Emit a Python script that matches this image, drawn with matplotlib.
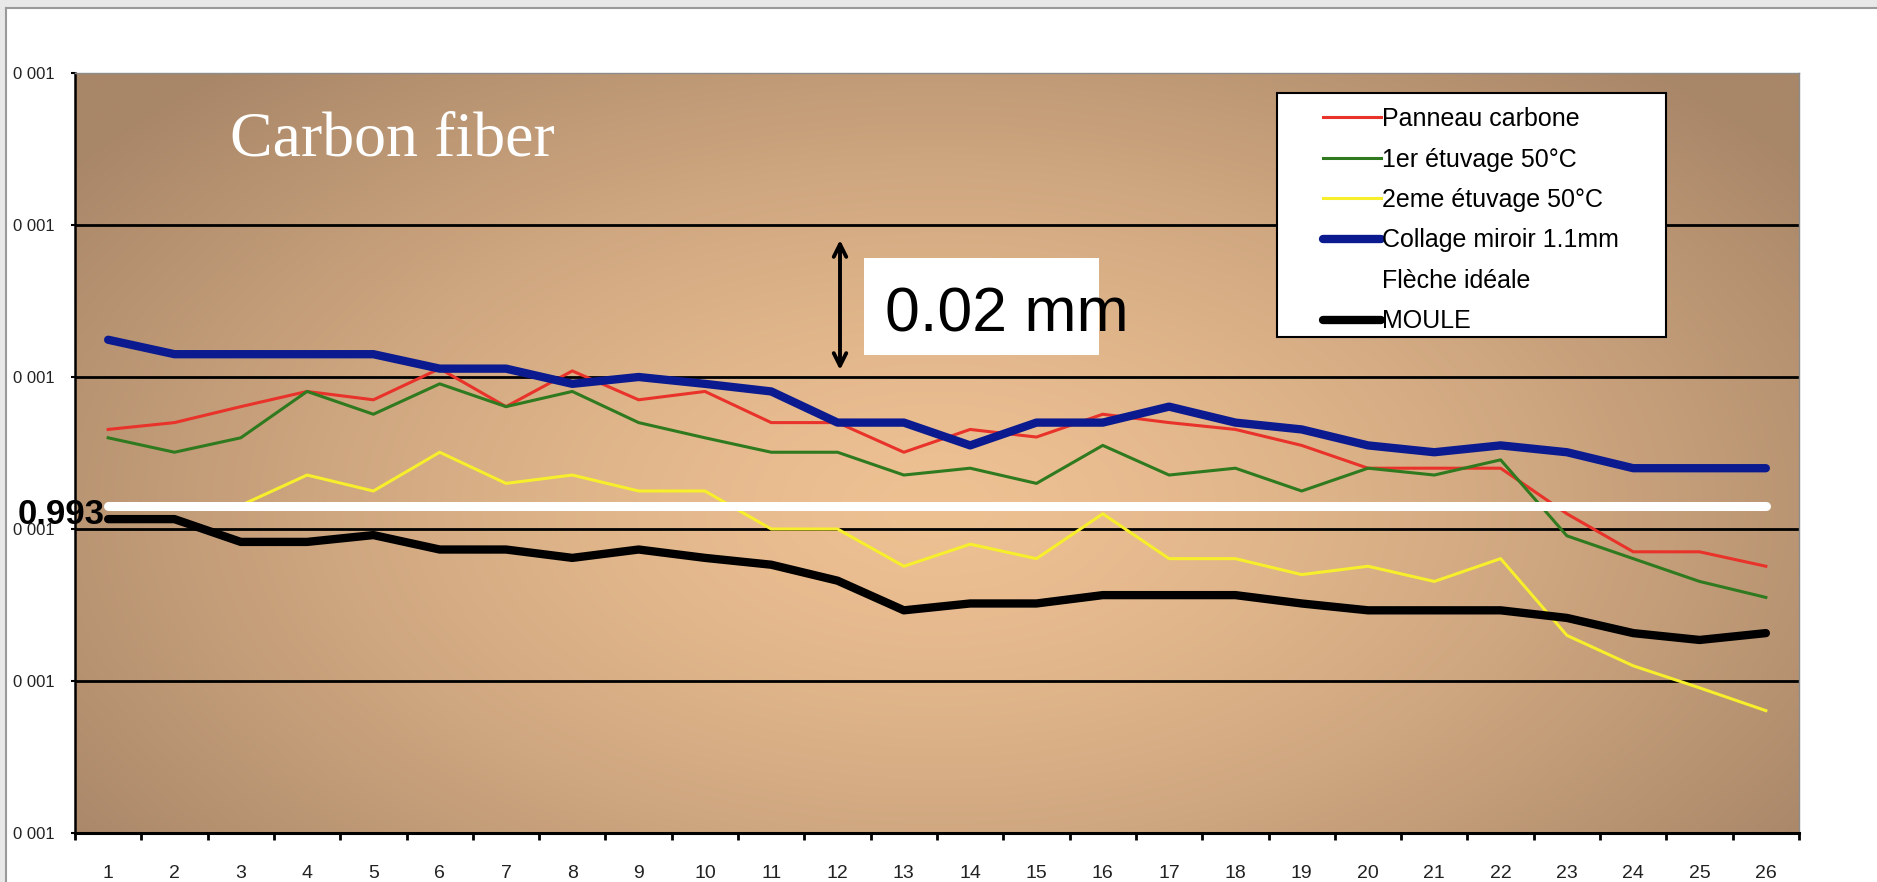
import numpy as np
import matplotlib.pyplot as plt
from matplotlib import font_manager
from matplotlib.patches import Rectangle
from matplotlib.lines import Line2D

# data (mm)
points = list(range(1, 27))
panneau = [1.0031, 1.0040, 1.0061, 1.0081, 1.0070, 1.0111, 1.0061, 1.0108, 1.0070, 1.0081,
           1.0040, 1.0040, 1.0001, 1.0031, 1.0021, 1.0051, 1.0040, 1.0031, 1.0010, 0.9980,
           0.9980, 0.9980, 0.9920, 0.9870, 0.9870, 0.9851]
etuvage1 = [1.0020, 1.0001, 1.0020, 1.0081, 1.0051, 1.0091, 1.0061, 1.0081, 1.0040, 1.0020,
            1.0001, 1.0001, 0.9971, 0.9980, 0.9960, 1.0010, 0.9971, 0.9980, 0.9950, 0.9980,
            0.9971, 0.9991, 0.9891, 0.9861, 0.9831, 0.9810]
etuvage2 = [np.nan, np.nan, 0.9931, 0.9971, 0.9950, 1.0001, 0.9960, 0.9971, 0.9950, 0.9950,
            0.9900, 0.9900, 0.9851, 0.9880, 0.9861, 0.9920, 0.9861, 0.9861, 0.9840, 0.9851,
            0.9831, 0.9861, 0.9760, 0.9720, 0.9691, 0.9661]
collage = [1.0149, 1.0130, 1.0130, 1.0130, 1.0130, 1.0111, 1.0111, 1.0091, 1.0100, 1.0091,
           1.0081, 1.0040, 1.0040, 1.0010, 1.0040, 1.0040, 1.0061, 1.0040, 1.0031, 1.0010,
           1.0001, 1.0010, 1.0001, 0.9980, 0.9980, 0.9980]
fleche = [0.993] * 26
moule = [0.9913, 0.9913, 0.9883, 0.9883, 0.9892, 0.9873, 0.9873, 0.9862, 0.9873, 0.9862,
         0.9853, 0.9832, 0.9793, 0.9802, 0.9802, 0.9813, 0.9813, 0.9813, 0.9802, 0.9793,
         0.9793, 0.9793, 0.9783, 0.9763, 0.9754, 0.9763]

yticks = [0.95, 0.97, 0.99, 1.01, 1.03, 1.05]
ytick_labels = ["0 001"] * 6


def pick(*names):
    for n in names:
        try:
            font_manager.findfont(n, fallback_to_default=False)
            return n
        except Exception:
            pass
    return "DejaVu Sans"


narrow = pick("Liberation Sans Narrow", "Liberation Sans")
sans = pick("Liberation Sans", "Arial")
serif = pick("Liberation Serif", "DejaVu Serif")

W, H = 1877, 882
fig = plt.figure(figsize=(W / 100, H / 100), dpi=100)
fig.patch.set_facecolor("white")

# window frame (grey strips top and left)
fig.patches.append(Rectangle((0, 1 - 8 / H), 1, 8 / H, transform=fig.transFigure,
                             facecolor="#e8e8e8", edgecolor="none", zorder=0))
fig.patches.append(Rectangle((0, 0), 6 / W, 1, transform=fig.transFigure,
                             facecolor="#e8e8e8", edgecolor="none", zorder=0))
fig.add_artist(Line2D([6 / W, 1], [1 - 8 / H, 1 - 8 / H], transform=fig.transFigure,
                      color="#9a9a9a", lw=1.5))
fig.add_artist(Line2D([6 / W, 6 / W], [0, 1 - 8 / H], transform=fig.transFigure,
                      color="#9a9a9a", lw=1.5))

ax = fig.add_axes([75 / W, 49 / H, 1724 / W, 760 / H])
ax.set_xlim(0.5, 26.5)
ax.set_ylim(0.95, 1.05)

# brown radial background
gx, gy = np.meshgrid(np.linspace(0, 1, 600), np.linspace(0, 1, 300))
r = np.clip(np.sqrt(((gx - 0.5) / 0.62) ** 2 + ((gy - 0.43) / 0.78) ** 2), 0, 1) ** 1.4
c0 = np.array([238, 193, 147]) / 255
c1 = np.array([168, 134, 104]) / 255
img = c0 * (1 - r[..., None]) + c1 * r[..., None]
ax.imshow(img, extent=(0.5, 26.5, 0.95, 1.05), origin="lower", aspect="auto",
          interpolation="bilinear", zorder=0)

for yv in yticks[1:-1]:
    ax.axhline(yv, color="black", lw=2, zorder=1)

ax.plot(points, panneau, color="#e8322a", lw=2.2, zorder=3, label="Panneau carbone")
ax.plot(points, etuvage1, color="#2f7a1f", lw=2.2, zorder=3, label="1er étuvage 50°C")
ax.plot(points, etuvage2, color="#f7ee2c", lw=2.2, zorder=3, label="2eme étuvage 50°C")
ax.plot(points, collage, color="#0b1b8f", lw=6, zorder=4, solid_capstyle="round",
        solid_joinstyle="round", label="Collage miroir 1.1mm")
ax.plot(points, fleche, color="white", lw=6.5, zorder=5, solid_capstyle="round",
        label="Flèche idéale")
ax.plot(points, moule, color="black", lw=6, zorder=6, solid_capstyle="round",
        solid_joinstyle="round", label="MOULE")

# axes styling
ax.set_yticks(yticks, labels=ytick_labels)
ax.set_xticks(np.arange(0.5, 27), labels=[])
ax.set_xticks(points, labels=[str(p) for p in points], minor=True)
ax.tick_params(axis="y", length=3, width=1.5, pad=12, labelsize=12)
ax.tick_params(axis="x", which="major", length=5, width=2, direction="out")
ax.tick_params(axis="x", which="minor", length=0, pad=23, labelsize=14)
for lab in ax.get_yticklabels() + ax.get_xticklabels(minor=True):
    lab.set_fontfamily(narrow)
    lab.set_color("#222222")
ax.spines["left"].set_linewidth(1.8)
ax.spines["bottom"].set_linewidth(2.2)
for s in ("top", "right"):
    ax.spines[s].set_color("#8c8c8c")
    ax.spines[s].set_linewidth(1)

# legend box + entries
fig.patches.append(Rectangle((1277 / W, 1 - 337 / H), 389 / W, 244 / H,
                             transform=fig.transFigure, facecolor="white",
                             edgecolor="black", lw=1.5, zorder=8))
leg = fig.legend(loc="upper left", bbox_to_anchor=(1323 / W, 1 - 107 / H),
                 frameon=False, prop={"family": sans, "size": 18},
                 handlelength=2.3, handletextpad=0.05, labelspacing=0.66,
                 borderpad=0, borderaxespad=0)
leg.set_zorder(9)

# annotations
fig.text(230 / W, 1 - 155 / H, "Carbon fiber", color="white", fontsize=46,
         family=serif, va="baseline", ha="left")
fig.text(18 / W, 1 - 514 / H, "0.993", fontsize=25, fontweight="bold",
         family=sans, va="center", ha="left", zorder=10)
fig.patches.append(Rectangle((864 / W, 1 - 355 / H), 235 / W, 97 / H,
                             transform=fig.transFigure, facecolor="white",
                             edgecolor="none", zorder=8))
fig.text(885 / W, 1 - 332 / H, "0.02 mm", fontsize=45, family=sans,
         va="baseline", ha="left", zorder=9)
ax.annotate("", xy=(840 / W, 1 - 240 / H), xytext=(840 / W, 1 - 370 / H),
            xycoords="figure fraction", textcoords="figure fraction",
            arrowprops=dict(arrowstyle="<->,head_length=0.9,head_width=0.45",
                            lw=2.8, color="black", shrinkA=0, shrinkB=0))

fig.savefig("out.png", dpi=100)
